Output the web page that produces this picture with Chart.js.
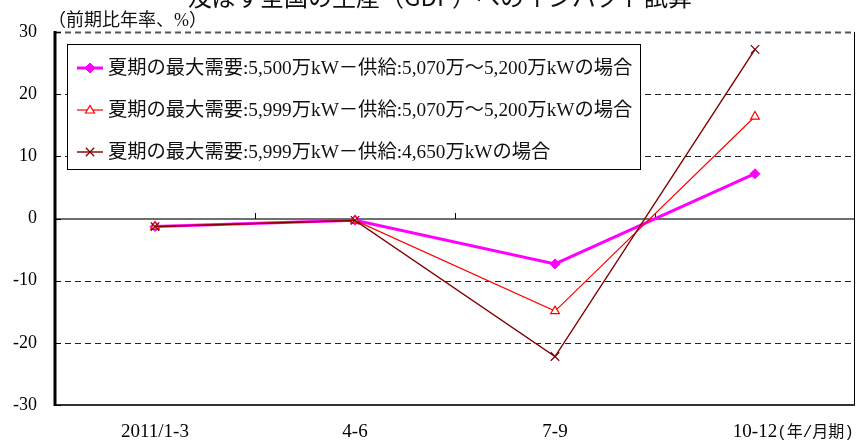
<!DOCTYPE html>
<html>
<head>
<meta charset="utf-8">
<script src="https://cdn.jsdelivr.net/npm/chart.js@4/dist/chart.umd.min.js"></script>
<style>
  html, body { margin: 0; padding: 0; background: #fff; overflow: hidden; }
  #wrap { position: relative; width: 858px; height: 443px; }
</style>
</head>
<body>
<div id="wrap"><canvas id="c" width="858" height="443"></canvas></div>
<script>
// Quarters (x axis) and their unit
const categories = ['2011/1-3', '4-6', '7-9', '10-12'];
const periodUnit = '(年/月期)';

// Y axis ticks, percent
const yTicks = [-30, -20, -10, 0, 10, 20, 30];
const yUnit = '（前期比年率、%）';
const titleText = '及ぼす全国の生産（GDP）へのインパクト試算';

// Scenario labels
const label1 = '夏期の最大需要:5,500万kW－供給:5,070万～5,200万kWの場合';
const label2 = '夏期の最大需要:5,999万kW－供給:5,070万～5,200万kWの場合';
const label3 = '夏期の最大需要:5,999万kW－供給:4,650万kWの場合';

// Scenario values (annualized q/q, %)
const values1 = [-1.3, -0.3, -7.3, 7.2];
const values2 = [-1.3, -0.3, -14.9, 16.4];
const values3 = [-1.3, -0.3, -22.2, 27.2];

const serif = "'Liberation Serif', 'Noto Sans CJK JP'";
const sans = "'Noto Sans CJK JP', 'Noto Sans'";
const mono = "'Liberation Mono', 'Noto Sans CJK JP'";

function seg(ctx, x1, y1, x2, y2) {
  ctx.beginPath(); ctx.moveTo(x1, y1); ctx.lineTo(x2, y2); ctx.stroke();
}

// Frame, grid lines and axis ticks drawn under the series
const framePlugin = {
  id: 'frame',
  beforeDatasetsDraw(chart) {
    const { ctx, chartArea: a, scales: { x, y } } = chart;
    ctx.save();
    // dashed grid
    ctx.setLineDash([6, 4]);
    y.ticks.forEach(t => {
      if (t.value === 0 || t.value === y.min) return;
      const py = Math.round(y.getPixelForValue(t.value)) + 0.5;
      if (t.value === y.max) { ctx.strokeStyle = '#555'; ctx.lineWidth = 2; }
      else { ctx.strokeStyle = '#222'; ctx.lineWidth = 1; }
      seg(ctx, a.left, py, a.right, py);
    });
    ctx.setLineDash([]);
    // zero axis
    const y0 = Math.round(y.getPixelForValue(0));
    ctx.strokeStyle = '#6f6f6f';
    ctx.lineWidth = 2;
    seg(ctx, a.left, y0, a.right, y0);
    // category boundary ticks on zero axis
    ctx.strokeStyle = '#000';
    ctx.lineWidth = 1;
    for (let i = 1; i < categories.length; i++) {
      const px = Math.round((x.getPixelForValue(i - 1) + x.getPixelForValue(i)) / 2) + 0.5;
      seg(ctx, px, y0 - 6, px, y0);
    }
    // right and bottom borders
    ctx.strokeStyle = '#000';
    ctx.lineWidth = 1;
    seg(ctx, a.right - 0.5, a.top, a.right - 0.5, a.bottom);
    ctx.strokeStyle = '#333';
    ctx.lineWidth = 2;
    seg(ctx, a.left, a.bottom, a.right, a.bottom);
    // y tick marks (inside)
    ctx.strokeStyle = '#000';
    ctx.lineWidth = 1;
    y.ticks.forEach(t => {
      const py = Math.round(y.getPixelForValue(t.value)) + 0.5;
      seg(ctx, a.left, py, a.left + 6, py);
    });
    // left value axis
    ctx.lineWidth = 3;
    seg(ctx, a.left, a.top - 1, a.left, a.bottom + 1);
    ctx.restore();
  }
};

function marker(ctx, style, cx, cy, r, fill, stroke, lw) {
  ctx.save();
  ctx.fillStyle = fill; ctx.strokeStyle = stroke; ctx.lineWidth = lw;
  ctx.beginPath();
  if (style === 'rectRot') {
    ctx.moveTo(cx, cy - r); ctx.lineTo(cx + r, cy); ctx.lineTo(cx, cy + r); ctx.lineTo(cx - r, cy); ctx.closePath();
    ctx.fill(); ctx.stroke();
  } else if (style === 'triangle') {
    const h = r * 1.5;
    ctx.moveTo(cx, cy - h * 0.6); ctx.lineTo(cx + r * 0.9, cy + h * 0.4); ctx.lineTo(cx - r * 0.9, cy + h * 0.4); ctx.closePath();
    ctx.fill(); ctx.stroke();
  } else {
    const d = r * 0.7;
    ctx.moveTo(cx - d, cy - d); ctx.lineTo(cx + d, cy + d);
    ctx.moveTo(cx + d, cy - d); ctx.lineTo(cx - d, cy + d);
    ctx.stroke();
  }
  ctx.restore();
}

// Boxed legend, title, unit captions
const captionPlugin = {
  id: 'captions',
  afterDatasetsDraw(chart) {
    const { ctx, chartArea: a, scales: { x } } = chart;
    ctx.save();
    const bx = a.left + 12, by = a.top + 12, bw = 573, bh = 125;
    ctx.fillStyle = '#fff';
    ctx.fillRect(bx, by, bw, bh);
    ctx.strokeStyle = '#000';
    ctx.lineWidth = 1;
    ctx.strokeRect(bx + 0.5, by + 0.5, bw, bh);
    ctx.font = '19.3px ' + serif;
    ctx.textBaseline = 'middle';
    ctx.textAlign = 'left';
    chart.data.datasets.forEach((ds, i) => {
      const cy = by + 24 + i * 42;
      const x1 = bx + 10, x2 = bx + 36;
      ctx.strokeStyle = ds.borderColor;
      ctx.lineWidth = ds.borderWidth;
      seg(ctx, x1, cy, x2, cy);
      marker(ctx, ds.pointStyle, (x1 + x2) / 2, cy, ds.pointRadius,
             ds.pointBackgroundColor, ds.pointBorderColor, ds.pointBorderWidth);
      ctx.fillStyle = '#111';
      ctx.fillText(ds.label, bx + 41, cy + 1);
    });
    // title (runs off the top edge)
    ctx.font = '24px ' + sans;
    ctx.textAlign = 'center';
    ctx.fillStyle = '#111';
    ctx.fillText(titleText, 440, -3);
    // y unit
    ctx.font = '18px ' + serif;
    ctx.textAlign = 'left';
    ctx.fillText(yUnit, a.left - 7, 21);
    // period unit after last category label
    ctx.font = '19px ' + serif;
    const last = categories[categories.length - 1];
    const lx = x.getPixelForValue(categories.length - 1) + ctx.measureText(last).width / 2;
    ctx.font = '16px ' + mono;
    ctx.fillText(periodUnit, lx, 433);
    ctx.restore();
  }
};

new Chart(document.getElementById('c'), {
  type: 'line',
  data: {
    labels: categories,
    datasets: [
      { label: label1, data: values1, borderColor: '#ff00ff', borderWidth: 3,
        pointStyle: 'rectRot', pointRadius: 5, pointBackgroundColor: '#ff00ff',
        pointBorderColor: '#ff00ff', pointBorderWidth: 1, order: 3 },
      { label: label2, data: values2, borderColor: '#ff0000', borderWidth: 1.2,
        pointStyle: 'triangle', pointRadius: 5, pointBackgroundColor: '#ffffff',
        pointBorderColor: '#ff0000', pointBorderWidth: 1.2, order: 2 },
      { label: label3, data: values3, borderColor: '#7f0000', borderWidth: 1.4,
        pointStyle: 'crossRot', pointRadius: 6, pointBackgroundColor: '#7f0000',
        pointBorderColor: '#7f0000', pointBorderWidth: 1.3, order: 1 }
    ]
  },
  options: {
    responsive: false,
    animation: false,
    devicePixelRatio: 1,
    layout: { autoPadding: false, padding: { top: 32, right: 3, left: 0, bottom: 0 } },
    plugins: { legend: { display: false }, tooltip: { enabled: false }, title: { display: false } },
    elements: { line: { tension: 0 } },
    scales: {
      x: {
        offset: true,
        grid: { display: false },
        border: { display: false },
        ticks: { color: '#000', font: { family: serif, size: 19 }, padding: 8, maxRotation: 0 },
        afterFit(s) { s.height = 38; }
      },
      y: {
        min: -30, max: 30,
        grid: { display: false },
        border: { display: false },
        afterBuildTicks(s) { s.ticks = yTicks.map(v => ({ value: v })); },
        ticks: { color: '#000', font: { family: serif, size: 18 }, padding: 10 },
        afterFit(s) { s.width = 55; }
      }
    }
  },
  plugins: [framePlugin, captionPlugin]
});
</script>
</body>
</html>
